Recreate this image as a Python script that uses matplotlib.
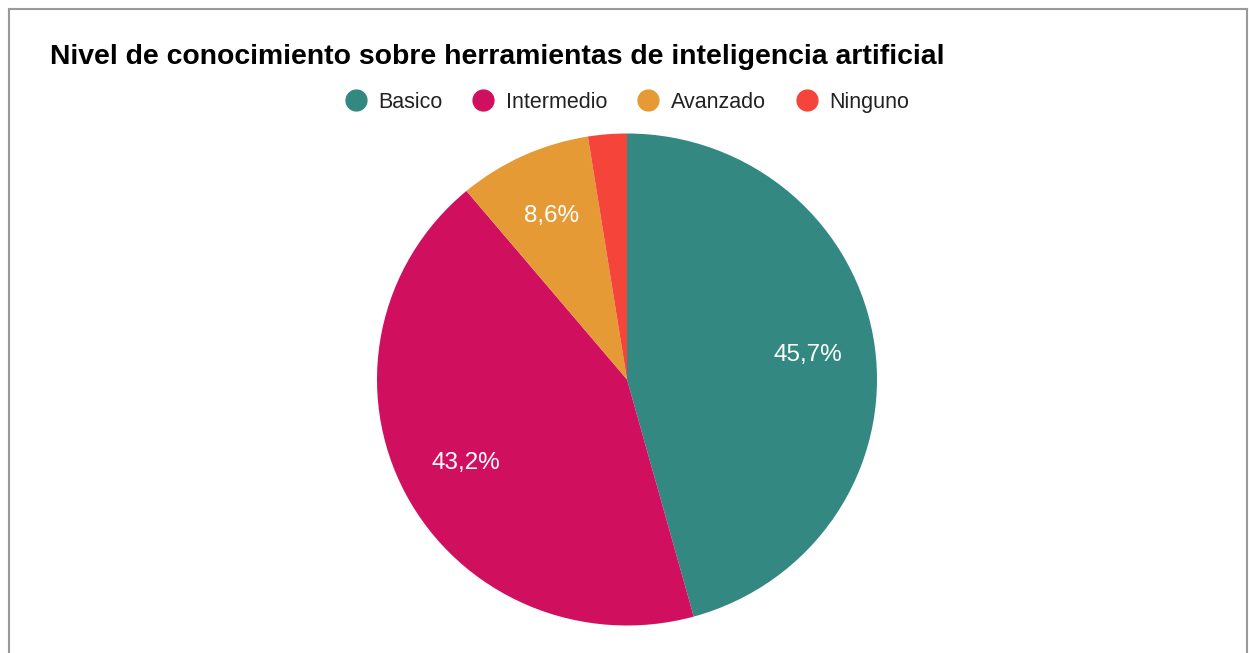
import matplotlib.pyplot as plt
from matplotlib.lines import Line2D

plt.rcParams['font.family'] = ['Liberation Sans', 'DejaVu Sans']

# data
categories = ['Basico', 'Intermedio', 'Avanzado', 'Ninguno']
values = [45.7, 43.2, 8.6, 2.5]
colors = ['#348882', '#D10F5F', '#E69A35', '#F5443A']
title = 'Nivel de conocimiento sobre herramientas de inteligencia artificial'

W, H = 1249, 653
fig = plt.figure(figsize=(W / 100, H / 100), dpi=100)

# pie axes: center (627, 379.5), radii 250 x 246 px
cx, cy, rx, ry = 627, 379.5, 250, 246
ax = fig.add_axes([(cx - rx) / W, 1 - (cy + ry) / H, 2 * rx / W, 2 * ry / H])
wedges, texts, autotexts = ax.pie(
    values, colors=colors, startangle=90, counterclock=False,
    autopct=lambda p: ('%.1f%%' % p).replace('.', ',') if p > 5 else '',
    pctdistance=0.73, radius=1.0,
    wedgeprops=dict(linewidth=0),
    textprops=dict(color='white', fontsize=17.5))
ax.set_xlim(-1, 1)
ax.set_ylim(-1, 1)
ax.set_aspect('auto')
ax.axis('off')

# title
fig.text(50 / W, 1 - 57.5 / H, title, fontsize=20.4, fontweight='bold',
         ha='left', va='center', color='#000000')

# legend
handles = [Line2D([0], [0], marker='o', linestyle='', markersize=15,
                  markerfacecolor=c, markeredgecolor=c) for c in colors]
fig.legend(handles, categories, loc='center', bbox_to_anchor=(627 / W, 1 - 102.5 / H),
           ncol=4, frameon=False, fontsize=15.5, handletextpad=0.55,
           columnspacing=1.4, handlelength=1.0, labelcolor='#222222')

# frame (left, top, right)
fc = '#9a9a9a'
fig.add_artist(Line2D([8.5 / W, 8.5 / W], [0, 1 - 8.5 / H], color=fc, lw=1.5))
fig.add_artist(Line2D([8.5 / W, 1247 / W], [1 - 8.5 / H, 1 - 8.5 / H], color=fc, lw=1.5))
fig.add_artist(Line2D([1247 / W, 1247 / W], [0, 1 - 8.5 / H], color=fc, lw=1.5))

fig.savefig('out.png', dpi=100)
